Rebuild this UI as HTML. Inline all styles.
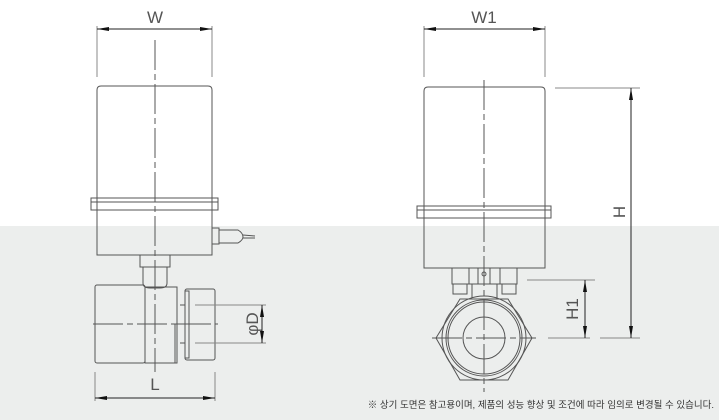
<!DOCTYPE html>
<html><head><meta charset="utf-8"><style>
html,body{margin:0;padding:0;background:#fff}
body{width:719px;height:420px;overflow:hidden}
</style></head><body>
<svg width="719" height="420" xmlns="http://www.w3.org/2000/svg" style="display:block">
<defs>
<marker id="a" viewBox="0 0 12 4" refX="12" refY="2" markerWidth="12" markerHeight="4" orient="auto-start-reverse" markerUnits="userSpaceOnUse"><path d="M0,0 L12,2 L0,4z" fill="#111"/></marker>
</defs>
<rect x="0" y="226" width="719" height="194" fill="#eceeed"/>
<g fill="none" stroke="#555" stroke-width="1">
<!-- LEFT VIEW -->
<line x1="97" y1="26" x2="97" y2="77" stroke="#888"/><line x1="212" y1="26" x2="212" y2="77" stroke="#888"/>
<line x1="97" y1="29" x2="212" y2="29" stroke="#222" marker-start="url(#a)" marker-end="url(#a)"/>
<path d="M97,255 V90 Q97,86 101,86 H208 Q212,86 212,90 V255 Z"/>
<rect x="91" y="198" width="127" height="12"/><line x1="91" y1="202" x2="218" y2="202"/>
<rect x="212" y="228" width="7" height="16"/>
<path d="M219,230 H238 Q243,233 243,237 Q243,240 238,243 H219"/><line x1="243" y1="235" x2="255" y2="236"/><line x1="243" y1="238" x2="255" y2="238"/>
<rect x="140" y="255" width="30" height="12"/>
<path d="M143,267 V283 Q143,288 150,288 H160 Q167,288 167,283 V267"/>
<rect x="95" y="285" width="50" height="78" rx="2"/>
<rect x="145" y="287" width="32" height="76"/>
<line x1="175" y1="324" x2="175" y2="363"/><line x1="175" y1="324" x2="185" y2="324"/>
<rect x="185" y="289" width="30" height="71" rx="2"/>
<rect x="185" y="291" width="4" height="67"/>
<line x1="180" y1="305" x2="185" y2="305"/><line x1="180" y1="343" x2="185" y2="343"/>
<line x1="93" y1="324" x2="218" y2="324" stroke-dasharray="30 4 6 4"/>
<line x1="155" y1="40" x2="155" y2="372" stroke-dasharray="30 4 6 4"/>
<line x1="195" y1="305" x2="266" y2="305" stroke="#888"/><line x1="195" y1="343" x2="266" y2="343" stroke="#888"/>
<line x1="262" y1="305" x2="262" y2="343" stroke="#222" marker-start="url(#a)" marker-end="url(#a)"/>
<line x1="95" y1="372" x2="95" y2="401" stroke="#888"/><line x1="215" y1="372" x2="215" y2="401" stroke="#888"/>
<line x1="95" y1="398" x2="215" y2="398" stroke="#222" marker-start="url(#a)" marker-end="url(#a)"/>
<!-- RIGHT VIEW -->
<line x1="424" y1="26" x2="424" y2="77" stroke="#888"/><line x1="545" y1="26" x2="545" y2="77" stroke="#888"/>
<line x1="424" y1="29" x2="545" y2="29" stroke="#222" marker-start="url(#a)" marker-end="url(#a)"/>
<path d="M424,268 V91 Q424,87 428,87 H541 Q545,87 545,91 V268 Z"/>
<rect x="417" y="206" width="134" height="12"/><line x1="417" y1="210" x2="551" y2="210"/>
<rect x="452" y="268" width="65" height="16"/>
<line x1="469" y1="268" x2="469" y2="284"/><line x1="478" y1="268" x2="478" y2="284"/><line x1="490" y1="268" x2="490" y2="284"/><line x1="500" y1="268" x2="500" y2="284"/>
<circle cx="484" cy="274" r="2"/>
<rect x="453" y="284" width="14" height="10"/><rect x="502" y="284" width="14" height="10"/>
<path d="M472,284 V298 M497,284 V298"/>
<polygon points="460,299 508,299 532,338 508,380 460,380 436,338"/>
<circle cx="484" cy="338" r="42"/><circle cx="484" cy="338" r="38"/><circle cx="484" cy="338" r="36"/>
<circle cx="484" cy="338" r="21"/>
<line x1="432" y1="338" x2="536" y2="338" stroke-dasharray="30 4 6 4"/>
<line x1="484" y1="80" x2="484" y2="392" stroke-dasharray="30 4 6 4"/>
<line x1="555" y1="88" x2="640" y2="88" stroke="#888"/>
<line x1="527" y1="280" x2="595" y2="280" stroke="#888"/>
<line x1="548" y1="338" x2="590" y2="338" stroke="#888"/><line x1="600" y1="338" x2="640" y2="338" stroke="#888"/>
<line x1="631" y1="88" x2="631" y2="338" stroke="#222" marker-start="url(#a)" marker-end="url(#a)"/>
<line x1="585" y1="280" x2="585" y2="338" stroke="#222" marker-start="url(#a)" marker-end="url(#a)"/>
</g>
<g font-family="Liberation Sans, sans-serif" fill="#555" font-size="17" text-anchor="middle">
<text x="155" y="23">W</text>
<text x="484" y="23">W1</text>
<text x="155" y="390">L</text>
<text transform="translate(258,324) rotate(-90)">φD</text>
<text transform="translate(625,212) rotate(-90)">H</text>
<text transform="translate(578,309) rotate(-90)">H1</text>
</g>
<text x="714" y="408" text-anchor="end" font-family="Liberation Sans, 'Noto Sans CJK KR', sans-serif" font-size="9.5" fill="#333">※ 상기 도면은 참고용이며, 제품의 성능 향상 및 조건에 따라 임의로 변경될 수 있습니다.</text>
</svg>
</body></html>
